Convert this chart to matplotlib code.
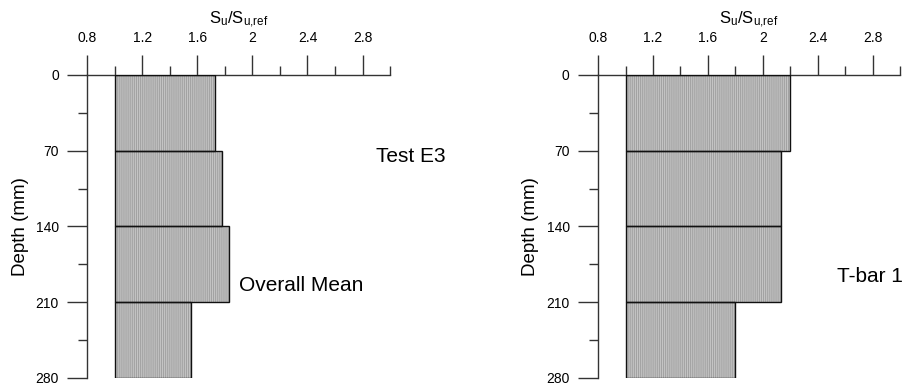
import matplotlib
matplotlib.use("Agg")
import matplotlib.pyplot as plt
import numpy as np

plt.rcParams["font.family"] = ["Liberation Sans", "DejaVu Sans"]
plt.rcParams["mathtext.fontset"] = "custom"
plt.rcParams["mathtext.rm"] = "Liberation Sans"
plt.rcParams["mathtext.it"] = "Liberation Sans"
plt.rcParams["hatch.color"] = "#a2a2a2"
plt.rcParams["hatch.linewidth"] = 0.8

# depth layers (mm) and normalised strength per layer
depth_edges = [0, 70, 140, 210, 280]
e3_mean = [1.73, 1.78, 1.83, 1.55]
tbar1 = [2.20, 2.13, 2.13, 1.80]
ratio_base = 1.0

x_major = [0.8, 1.2, 1.6, 2.0, 2.4, 2.8]
x_minor = [1.0, 1.4, 1.8, 2.2, 2.6, 3.0]
y_major = [0, 70, 140, 210, 280]
y_minor = [35, 105, 175, 245]

AX_COL = "#333333"


def draw_panel(ax, values, labels):
    tops = depth_edges[:-1]
    heights = np.diff(depth_edges)
    widths = [v - ratio_base for v in values]
    # hatched fill, then a crisp outline on top
    ax.barh(tops, widths, height=heights, left=ratio_base, align="edge",
            color="#c6c6c6", edgecolor="#a2a2a2", linewidth=0,
            hatch="||||||||", zorder=2)
    ax.barh(tops, widths, height=heights, left=ratio_base, align="edge",
            fill=False, edgecolor="#111111", linewidth=1.0, zorder=3)

    ax.set_xlim(0.8, 3.0)
    ax.set_ylim(280, 0)
    ax.xaxis.tick_top()
    ax.xaxis.set_label_position("top")
    ax.set_xticks(x_major)
    ax.set_xticklabels(["0.8", "1.2", "1.6", "2", "2.4", "2.8"])
    ax.set_xticks(x_minor, minor=True)
    ax.set_yticks(y_major)
    ax.set_yticks(y_minor, minor=True)

    for side in ("right", "bottom"):
        ax.spines[side].set_visible(False)
    for side in ("left", "top"):
        ax.spines[side].set_color(AX_COL)
        ax.spines[side].set_linewidth(1.0)

    ax.tick_params(axis="both", which="major", length=14.5, width=1.0,
                   color=AX_COL, labelsize=10, pad=6)
    ax.tick_params(axis="both", which="minor", length=6.5, width=1.0,
                   color=AX_COL)
    ax.tick_params(axis="x", which="major", pad=7)

    ax.set_xlabel(r"$\mathregular{S_u/S_{u{,}ref}}$", fontsize=12, labelpad=5)
    ax.set_ylabel("Depth (mm)", fontsize=13.5, labelpad=5)

    for x, y, s in labels:
        ax.text(x, y, s, fontsize=15, ha="left", va="center", clip_on=False)


fig = plt.figure(figsize=(9.05, 3.89), dpi=100)
ax1 = fig.add_axes([0.0965, 0.0283, 0.3345, 0.779])
ax2 = fig.add_axes([0.661, 0.0283, 0.3334, 0.779])

draw_panel(ax1, e3_mean, [(2.9, 75, "Test E3"), (1.905, 195, "Overall Mean")])
draw_panel(ax2, tbar1, [(2.54, 186, "T-bar 1")])

fig.savefig("out.png", dpi=100)
